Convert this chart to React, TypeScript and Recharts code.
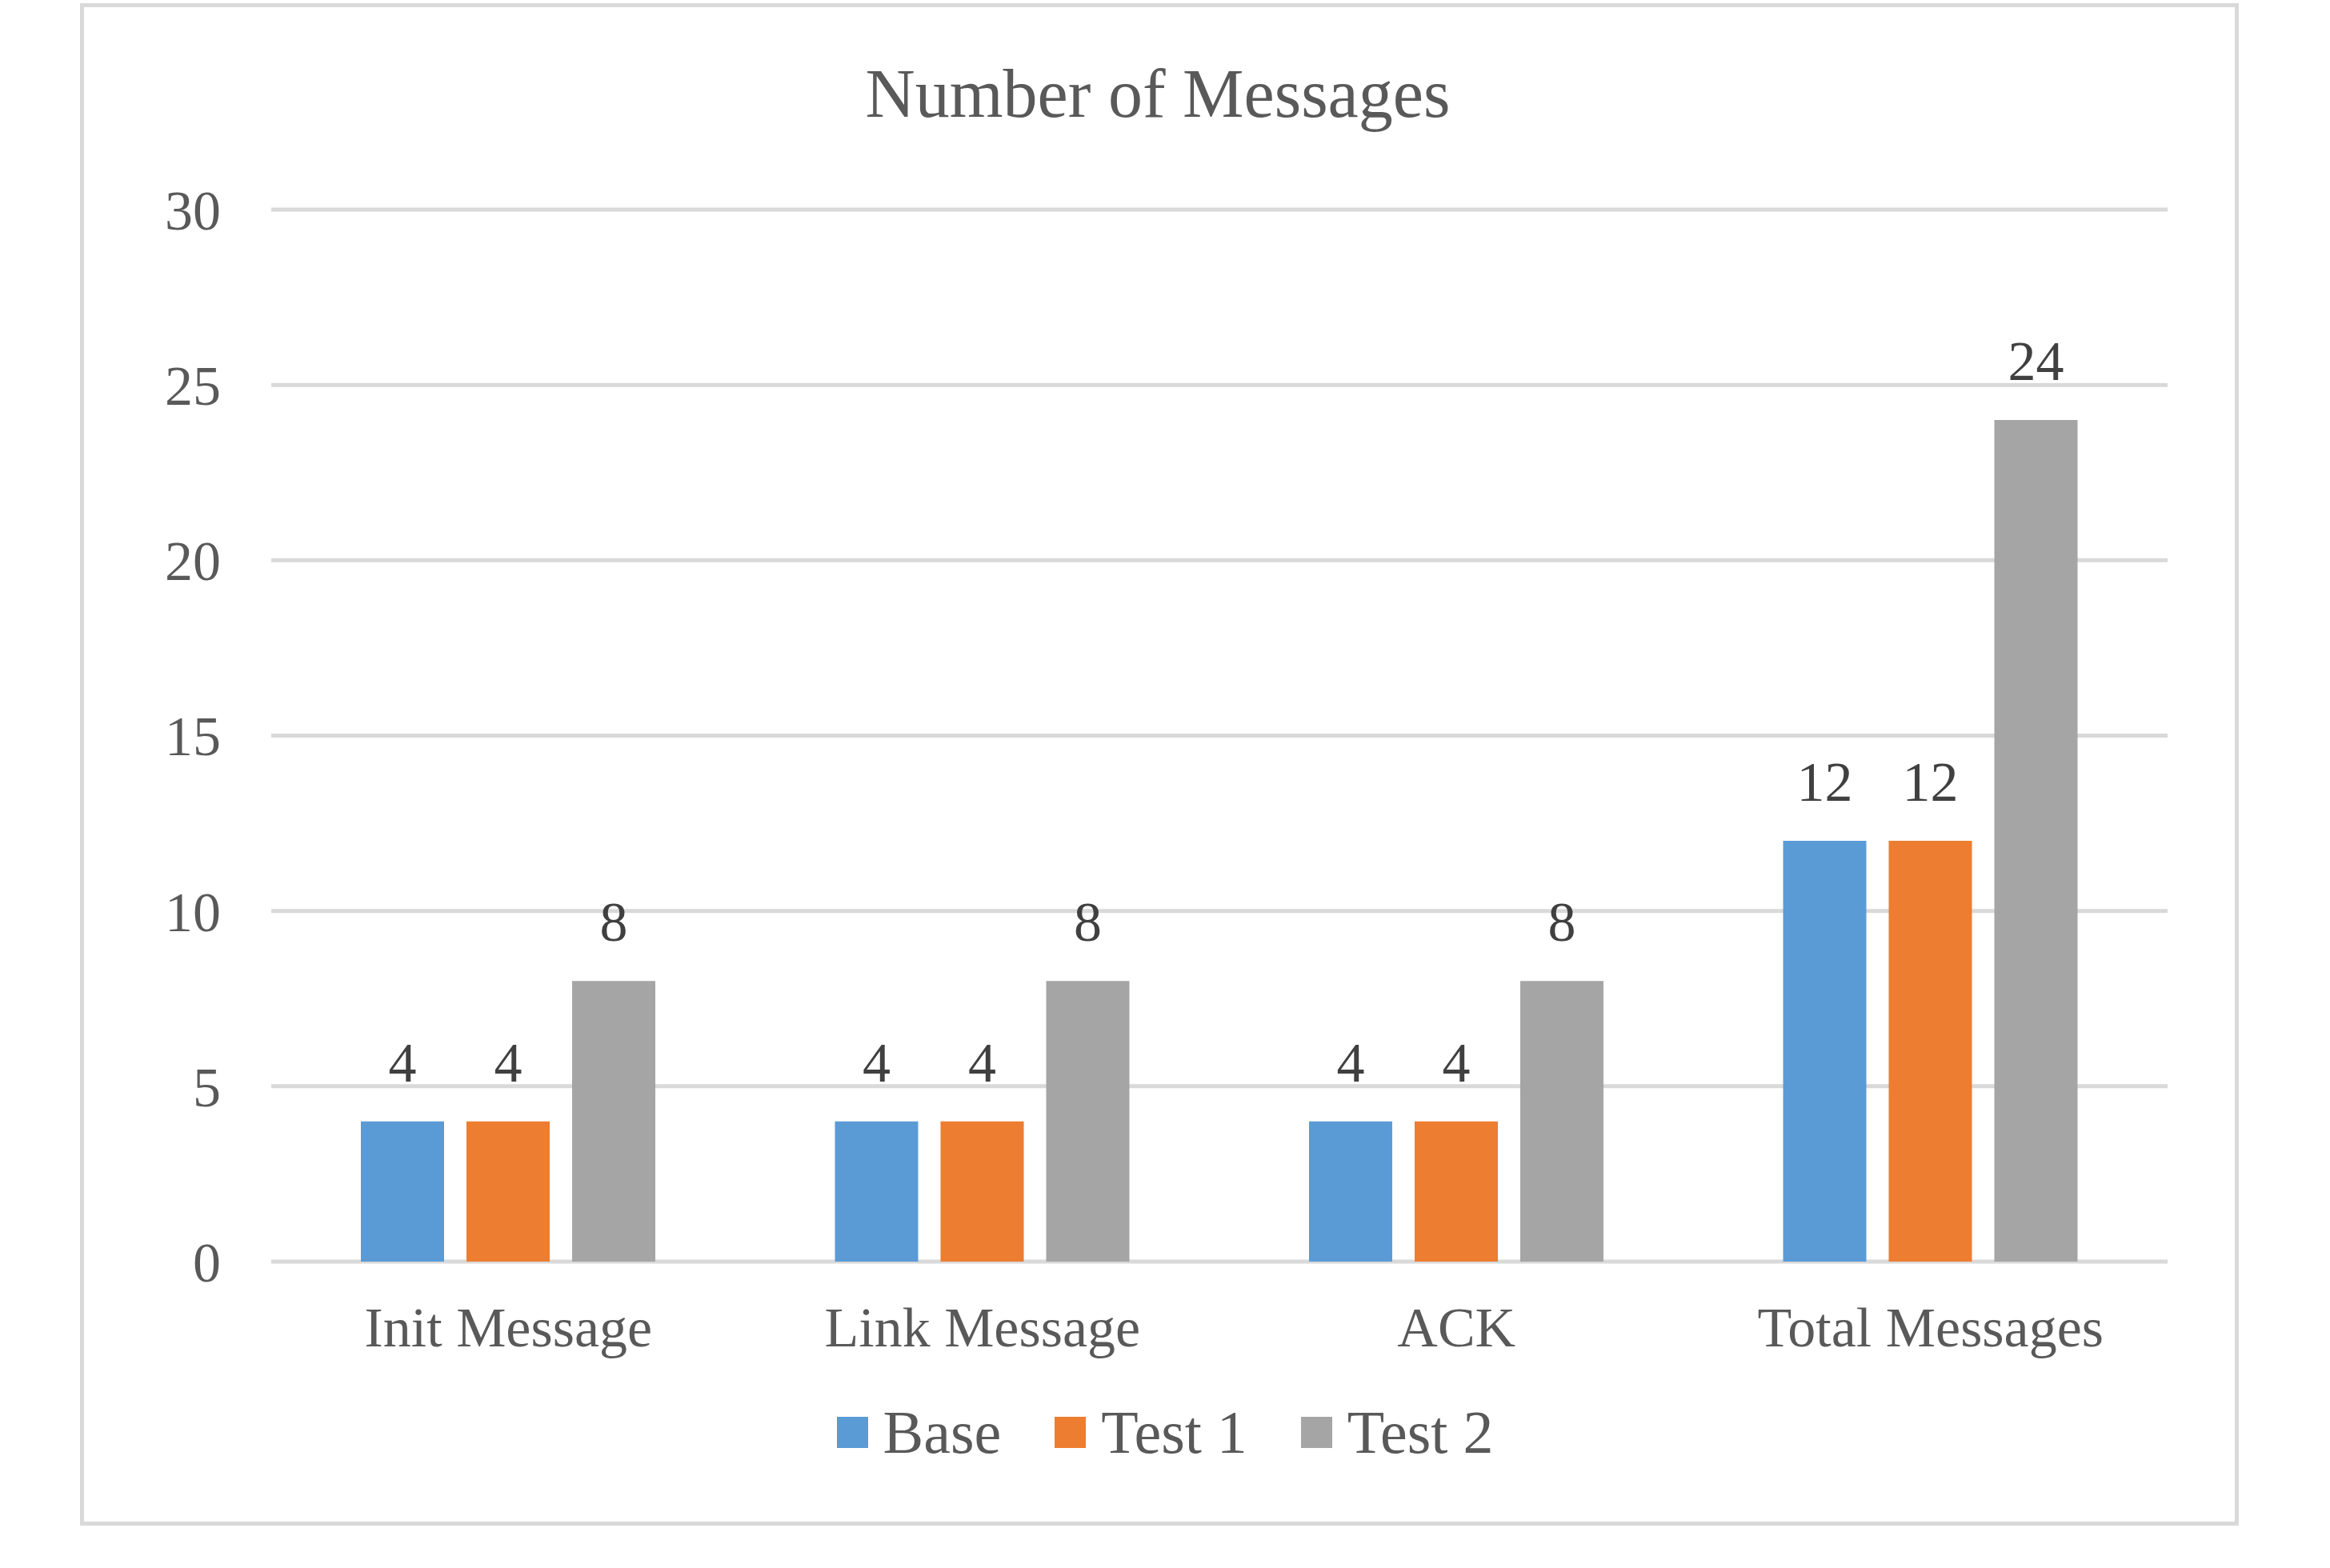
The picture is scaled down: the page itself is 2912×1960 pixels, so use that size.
import React from "react";
import {
    BarChart, Bar, XAxis, YAxis, CartesianGrid, Legend, LabelList
} from "recharts";

// chart values
const categories = ["Init Message", "Link Message", "ACK", "Total Messages"];
const baseValues = [4, 4, 4, 12];
const test1Values = [4, 4, 4, 12];
const test2Values = [8, 8, 8, 24];
const seriesNames = ["Base", "Test 1", "Test 2"];
const yTicks = [0, 5, 10, 15, 20, 25, 30];

const seriesColors = ["#5B9BD5", "#ED7D31", "#A5A5A5"];
const FONT = "'Times New Roman', 'Liberation Serif', serif";
const TEXT = "#595959";

const chartData = categories.map((name, i) => ({
    name,
    base: baseValues[i],
    test1: test1Values[i],
    test2: test2Values[i],
}));
const seriesKeys = ["base", "test1", "test2"];

const LegendRow = () => (
    <div
        style={{
            display: "flex",
            justifyContent: "center",
            alignItems: "center",
            height: 76,
            lineHeight: "76px",
            fontFamily: FONT,
            fontSize: 76,
            color: TEXT,
        }}
    >
        {seriesNames.map((n, i) => (
            <div key={n} style={{ display: "flex", alignItems: "center", marginLeft: i === 0 ? 0 : 67 }}>
                <span style={{ width: 39, height: 39, background: seriesColors[i], marginRight: 19, display: "inline-block" }} />
                <span>{n}</span>
            </div>
        ))}
    </div>
);

const App = () => {
    return (
        <div style={{ position: "absolute", left: 0, top: 0, width: 2912, height: 1960, background: "#fff" }}>
            {/* chart frame */}
            <div
                style={{
                    position: "absolute",
                    left: 100,
                    top: 4,
                    width: 2698,
                    height: 1903,
                    boxSizing: "border-box",
                    border: "5px solid #d9d9d9",
                    pointerEvents: "none",
                }}
            />
            <BarChart
                width={2912}
                height={1960}
                data={chartData}
                margin={{ top: 262, right: 203, left: 139, bottom: 207 }}
                barSize={104}
                barGap={28}
            >
                <text x={1447} y={146} textAnchor="middle" fontSize={86} fontFamily={FONT} fill={TEXT}>
                    Number of Messages
                </text>
                <CartesianGrid vertical={false} stroke="#d9d9d9" strokeWidth={5} />
                <XAxis
                    dataKey="name"
                    axisLine={false}
                    tickLine={false}
                    tickSize={0}
                    tickMargin={56}
                    height={100}
                    interval={0}
                    tick={{ fontSize: 70, fontFamily: FONT, fill: TEXT }}
                />
                <YAxis
                    domain={[0, 30]}
                    ticks={yTicks}
                    width={200}
                    axisLine={false}
                    tickLine={false}
                    tickSize={0}
                    tickMargin={63}
                    tick={{ fontSize: 70, fontFamily: FONT, fill: TEXT }}
                />
                <Legend
                    verticalAlign="bottom"
                    wrapperStyle={{ top: 1752, left: 0, width: 2912, height: 76 }}
                    content={() => <LegendRow />}
                />
                {seriesKeys.map((k, i) => (
                    <Bar key={k} dataKey={k} name={seriesNames[i]} fill={seriesColors[i]} isAnimationActive={false}>
                        <LabelList
                            dataKey={k}
                            position="top"
                            offset={50}
                            fill="#404040"
                            fontSize={70}
                            fontFamily={FONT}
                        />
                    </Bar>
                ))}
            </BarChart>
        </div>
    );
};

export default App;
